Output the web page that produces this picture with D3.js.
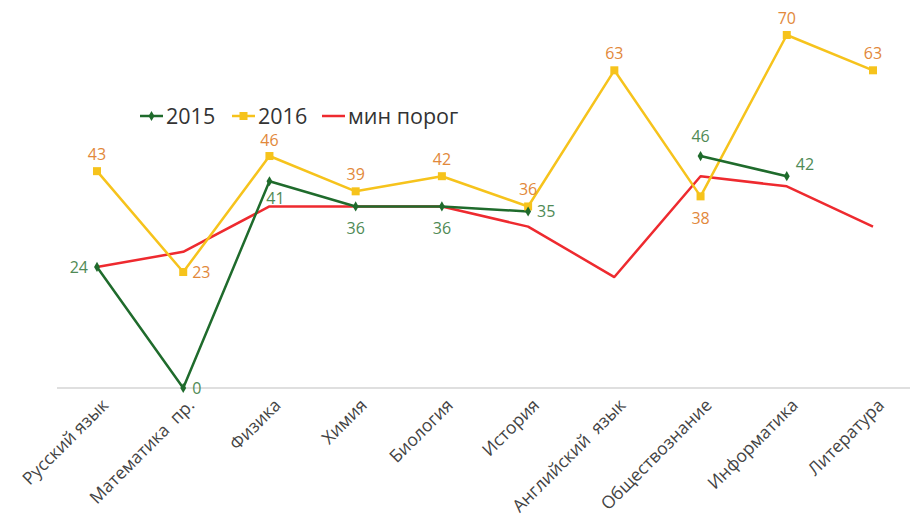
<!DOCTYPE html>
<html><head><meta charset="utf-8">
<script src="https://cdn.jsdelivr.net/npm/d3@7"></script>
<style>body{margin:0;background:#fff;}svg{display:block;font-family:"Open Sans",sans-serif;}</style>
</head><body>
<svg id="c" width="910" height="517"></svg>
<script>
const categories = ["Русский язык","Математика\u00a0 пр.","Физика","Химия","Биология","История","Английский\u00a0 язык","Обществознание","Информатика","Литература"];
const values2015 = [24, 0, 41, 36, 36, 35, null, 46, 42, null];
const values2016 = [43, 23, 46, 39, 42, 36, 63, 38, 70, 63];
const minThreshold = [24, 27, 36, 36, 36, 32, 22, 42, 40, 32];
const seriesNames = ["2015", "2016", "мин порог"];
// label placement per point (style only)
const pos2015 = ["left","right","below","below","below","right",null,"above","right",null];
const pos2016 = ["above","right","above","above","above","above","above","below","above","above"];

const svg = d3.select("#c");
const x = d3.scalePoint().domain(categories).range([97, 873]);
const y = d3.scaleLinear().domain([0, 70]).range([388, 35]);

const C15 = "#1f6b2c", C16 = "#f6c31c", CR = "#ee2a2f";
const L15 = "#4f8a55", L16 = "#e2883a";

// baseline axis
const xAxis = d3.axisBottom(x).tickSize(0).tickFormat("");
const ax = svg.append("g").attr("transform","translate(0,388)").call(xAxis);
ax.select(".domain").attr("d","M57,0H910").attr("stroke","#d4d4d4").attr("stroke-width",1.5);

// axis labels
svg.append("g").selectAll("text").data(categories).join("text")
  .attr("transform", d => `translate(${x(d)+8},402) rotate(-45)`)
  .attr("text-anchor","end").attr("dy","0.35em")
  .attr("font-size",17.5).attr("fill","#444").text(d => d);

const lineGen = d3.line().defined(d=>d!=null).x((d,i)=>x(categories[i])).y(d=>y(d));

svg.append("path").attr("d", lineGen(minThreshold))
  .attr("fill","none").attr("stroke",CR).attr("stroke-width",2.5).attr("stroke-linejoin","round");
svg.append("path").attr("d", lineGen(values2016)).attr("fill","none").attr("stroke",C16).attr("stroke-width",2.5).attr("stroke-linejoin","round");
svg.append("path").attr("d", lineGen(values2015)).attr("fill","none").attr("stroke",C15).attr("stroke-width",2.5).attr("stroke-linejoin","round");

// markers
svg.append("g").selectAll("rect").data(values2016).join("rect")
  .attr("x",(d,i)=>x(categories[i])-4).attr("y",d=>y(d)-4).attr("width",8).attr("height",8).attr("fill",C16);
svg.append("g").selectAll("path").data(values2015.map((v,i)=>({v,i})).filter(d=>d.v!=null)).join("path")
  .attr("d", d3.symbol(d3.symbolDiamond, 30))
  .attr("transform", d=>`translate(${x(categories[d.i])},${y(d.v)})`).attr("fill",C15);

function place(p){
  switch(p){
    case "above": return {dx:0, dy:-17, a:"middle"};
    case "below": return {dx:0, dy:22, a:"middle"};
    case "left": return {dx:-9, dy:0, a:"end"};
    case "right": return {dx:9, dy:0, a:"start"};
  }
}
svg.append("g").selectAll("text").data(values2016.map((v,i)=>({v,i}))).join("text")
  .each(function(d){ const p = place(pos2016[d.i]);
    let dy = p.dy; if (d.i===2) dy = -16;
    d3.select(this).attr("x", x(categories[d.i])+p.dx).attr("y", y(d.v)+dy).attr("text-anchor",p.a); })
  .attr("dy","0.35em").attr("font-size",16).attr("fill",L16).text(d=>d.v);
svg.append("g").selectAll("text").data(values2015.map((v,i)=>({v,i})).filter(d=>d.v!=null)).join("text")
  .each(function(d){ const p = place(pos2015[d.i]);
    let dy = p.dy; if (d.i===8) dy = -12; if (d.i===7) dy = -20; if (d.i===2) dy = 17;
    d3.select(this).attr("x", x(categories[d.i])+p.dx+(d.i===2?6:0)).attr("y", y(d.v)+dy).attr("text-anchor",p.a); })
  .attr("dy","0.35em").attr("font-size",16).attr("fill",L15).text(d=>d.v);

// legend
const lg = svg.append("g").attr("transform","translate(140,116)");
const colors = [C15, C16, CR];
const offs = [0, 92, 182];
seriesNames.forEach((n,i)=>{
  const g = lg.append("g").attr("transform",`translate(${offs[i]},0)`);
  g.append("line").attr("x1",0).attr("x2",23).attr("stroke",colors[i]).attr("stroke-width",2.5);
  if(i===0) g.append("path").attr("d",d3.symbol(d3.symbolDiamond,30)).attr("transform","translate(11.5,0)").attr("fill",C15);
  if(i===1) g.append("rect").attr("x",7.5).attr("y",-4).attr("width",8).attr("height",8).attr("fill",C16);
  g.append("text").attr("x",26).attr("dy","0.35em").attr("font-size",21.5).attr("fill","#333").text(n);
});
</script>
</body></html>
